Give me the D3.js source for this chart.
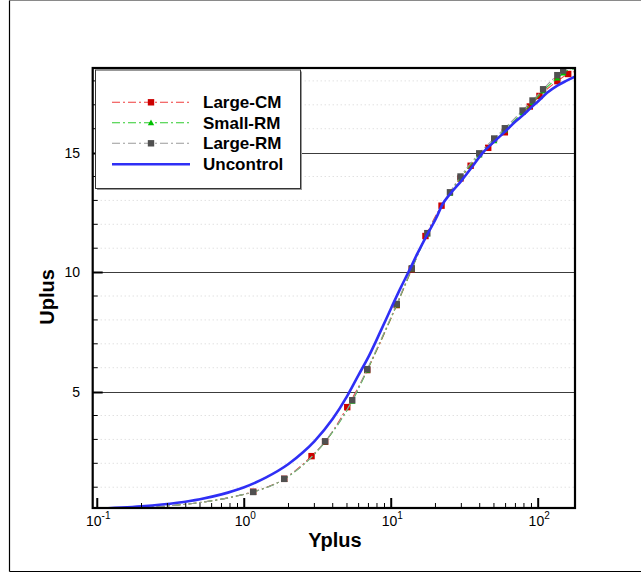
<!DOCTYPE html>
<html>
<head>
<meta charset="utf-8">
<script src="https://cdn.jsdelivr.net/npm/d3@7"></script>
<style>
  body { margin: 0; background: #fff; }
  svg { display: block; font-family: "Liberation Sans", Arial, Helvetica, sans-serif; }
</style>
</head>
<body>
<svg id="chart" width="641" height="573"></svg>
<script>
// Mean velocity profiles in wall units: Uplus versus Yplus (log axis)

const seriesNames = ["Large-CM", "Small-RM", "Large-RM", "Uncontrol"];

// Large-CM
const yplusLargeCM = [0.0931, 0.2, 0.35, 0.5, 0.7, 0.9,
  1.15, 1.87, 2.87, 3.55, 5.02, 6.87, 10.9, 13.8, 17.1, 22, 29.6, 34.7, 45.7, 59.3, 87.7, 102, 135, 160, 178];
const uplusLargeCM = [0.067, 0.145, 0.25, 0.36, 0.5, 0.64,
  0.81, 1.35, 2.3, 2.9, 4.35, 5.9, 8.62, 10.12, 11.51, 12.78, 13.92, 14.45, 15.2, 15.85, 16.93, 17.37, 17.99, 18.29, 18.4];

// Small-RM
const yplusSmallRM = [0.0931, 0.2, 0.35, 0.5, 0.7, 0.9,
  1.15, 1.87, 3.55, 5.43, 6.87, 10.9, 13.8, 17.6, 25.1, 29.6, 39.7, 50.2, 59.3, 78.3, 91.5, 108, 135, 148, 178];
const uplusSmallRM = [0.067, 0.145, 0.25, 0.36, 0.5, 0.64,
  0.8, 1.34, 2.9, 4.6, 5.9, 8.63, 10.13, 11.6, 13.3, 13.95, 14.9, 15.5, 15.95, 16.68, 17.1, 17.58, 18.12, 18.33, 18.58];

// Large-RM
const yplusLargeRM = [0.0931, 0.2, 0.35, 0.5, 0.7, 0.9,
  1.15, 1.87, 3.55, 5.43, 6.87, 10.9, 13.8, 17.6, 25.1, 29.6, 39.7, 50.2, 59.3, 78.3, 91.5, 108, 135, 148, 178];
const uplusLargeRM = [0.067, 0.145, 0.25, 0.36, 0.5, 0.64,
  0.8, 1.35, 2.92, 4.64, 5.94, 8.67, 10.16, 11.63, 13.34, 14.0, 14.97, 15.59, 16.02, 16.76, 17.18, 17.65, 18.24, 18.43, 18.8];

// Uncontrol
const yplusUncontrol = [0.0931, 0.2, 0.35, 0.5, 0.7, 1.0, 1.4, 2.0, 2.5, 3.0, 4.0, 5.0, 6.0, 7.0, 8.5, 10,
  11.5, 13.1, 15, 17.5, 20, 22.5, 25, 30, 36, 42, 50, 60, 70, 80, 90, 100, 115, 135, 155, 178];
const uplusUncontrol = [0.093, 0.2, 0.35, 0.5, 0.7, 1.0, 1.4, 1.97, 2.45, 2.92, 3.86, 4.8, 5.7, 6.45, 7.55, 8.5,
  9.3, 10.0, 10.75, 11.55, 12.2, 12.87, 13.25, 13.82, 14.45, 15.0, 15.45, 15.9, 16.3, 16.6, 16.9, 17.15, 17.5, 17.8, 18.0, 18.18];

// Axis ticks
const xDecadeExponents = ["-1", "0", "1", "2"];
const yMajorTicks = [5, 10, 15];
const yMinorTicks = [1, 2, 3, 4, 6, 7, 8, 9, 11, 12, 13, 14, 16, 17, 18];

// ---- layout ----
const svg = d3.select("#chart");
const plot = { left: 92.7, right: 575, top: 68, bottom: 508 };

const x = d3.scaleLog().domain([0.0931, 178]).range([plot.left, plot.right]);
const y = d3.scaleLinear().domain([0.13, 18.54]).range([plot.bottom, plot.top]);

const zip = (xs, ys) => xs.map((v, i) => ({ yp: v, up: ys[i] }));

const series = [
  { name: seriesNames[0], pts: zip(yplusLargeCM, uplusLargeCM), line: "#f03c3c", mark: "#cc0000",
    shape: "square", dash: "8,3,2,3", width: 1.1, markFrom: 6, markTo: yplusLargeCM.length - 2 },
  { name: seriesNames[1], pts: zip(yplusSmallRM, uplusSmallRM), line: "#2ecc2e", mark: "#00c000",
    shape: "triangle", dash: "8,3,2,3", width: 1.1, markFrom: 6, markTo: yplusSmallRM.length - 1 },
  { name: seriesNames[2], pts: zip(yplusLargeRM, uplusLargeRM), line: "#9a9a9a", mark: "#505050",
    shape: "square", dash: "8,3,2,3", width: 1.1, markFrom: 6, markTo: yplusLargeRM.length - 2 },
  { name: seriesNames[3], pts: zip(yplusUncontrol, uplusUncontrol), line: "#2f2ff5", mark: null,
    shape: null, dash: null, width: 2.6 }
];

// outer frame
svg.append("line").attr("x1", 9.5).attr("x2", 641).attr("y1", 0.5).attr("y2", 0.5)
  .attr("stroke", "#8a8a8a").attr("stroke-width", 1);
svg.append("line").attr("x1", 9.5).attr("x2", 9.5).attr("y1", 0.5).attr("y2", 571.5)
  .attr("stroke", "#000").attr("stroke-width", 1.2);
svg.append("line").attr("x1", 9.5).attr("x2", 641).attr("y1", 571.5).attr("y2", 571.5)
  .attr("stroke", "#000").attr("stroke-width", 1.2);

// clip to plot area
svg.append("defs").append("clipPath").attr("id", "plotClip")
  .append("rect").attr("x", plot.left).attr("y", plot.top)
  .attr("width", plot.right - plot.left).attr("height", plot.bottom - plot.top);

// minor dotted gridlines
svg.append("g").selectAll("line").data(yMinorTicks).join("line")
  .attr("x1", plot.left).attr("x2", plot.right)
  .attr("y1", d => y(d)).attr("y2", d => y(d))
  .attr("stroke", "#d4d4d4").attr("stroke-width", 1).attr("stroke-dasharray", "1,3");

// major gridlines
svg.append("g").selectAll("line").data(yMajorTicks).join("line")
  .attr("x1", plot.left).attr("x2", plot.right)
  .attr("y1", d => Math.round(y(d)) + 0.5).attr("y2", d => Math.round(y(d)) + 0.5)
  .attr("stroke", "#3c3c3c").attr("stroke-width", 1.2);

// curves
const lineGen = d3.line().x(d => x(d.yp)).y(d => y(d.up)).curve(d3.curveMonotoneX);
const gPlot = svg.append("g").attr("clip-path", "url(#plotClip)");

function drawMarker(g, shape, color, cx, cy) {
  if (shape === "square") {
    g.append("rect").attr("x", cx - 3.2).attr("y", cy - 3.2).attr("width", 6.4).attr("height", 6.4)
      .attr("fill", color);
  } else if (shape === "triangle") {
    const s = 3.2;
    g.append("path").attr("d", `M${cx},${cy - s}L${cx + s},${cy + s * 0.8}L${cx - s},${cy + s * 0.8}Z`)
      .attr("fill", color);
  }
}

series.forEach(s => {
  const g = gPlot.append("g");
  g.append("path").datum(s.pts).attr("d", lineGen)
    .attr("fill", "none").attr("stroke", s.line).attr("stroke-width", s.width)
    .attr("stroke-dasharray", s.dash).attr("stroke-linejoin", "round");
  if (s.shape) {
    s.pts.forEach((p, i) => {
      if (i >= s.markFrom && i <= s.markTo) drawMarker(g, s.shape, s.mark, x(p.yp), y(p.up));
    });
  }
});

// axes: ticks pointing inward
const axisG = svg.append("g");
const minorX = [];
[0.1, 1, 10, 100].forEach(dec => {
  for (let k = 2; k <= 9; k++) { const v = dec * k; if (v <= 178) minorX.push(v); }
});
axisG.selectAll(".xminor").data(minorX).join("line")
  .attr("x1", d => x(d)).attr("x2", d => x(d))
  .attr("y1", plot.bottom).attr("y2", plot.bottom - 5)
  .attr("stroke", "#000").attr("stroke-width", 1);
axisG.selectAll(".xmajor").data(xDecadeExponents).join("line")
  .attr("x1", d => x(Math.pow(10, +d))).attr("x2", d => x(Math.pow(10, +d)))
  .attr("y1", plot.bottom).attr("y2", plot.bottom - 10)
  .attr("stroke", "#000").attr("stroke-width", 2);
axisG.selectAll(".yminor").data(yMinorTicks).join("line")
  .attr("x1", plot.left).attr("x2", plot.left + 5)
  .attr("y1", d => y(d)).attr("y2", d => y(d))
  .attr("stroke", "#000").attr("stroke-width", 1);
axisG.selectAll(".ymajor").data(yMajorTicks).join("line")
  .attr("x1", plot.left).attr("x2", plot.left + 10)
  .attr("y1", d => Math.round(y(d)) + 0.5).attr("y2", d => Math.round(y(d)) + 0.5)
  .attr("stroke", "#000").attr("stroke-width", 2);

// plot border
svg.append("rect").attr("x", plot.left).attr("y", plot.top)
  .attr("width", plot.right - plot.left).attr("height", plot.bottom - plot.top)
  .attr("fill", "none").attr("stroke", "#000").attr("stroke-width", 2.2);

// tick labels
const xl = svg.append("g").attr("font-size", 14).attr("fill", "#000");
xDecadeExponents.forEach(e => {
  const t = xl.append("text").attr("x", x(Math.pow(10, +e)) + 1).attr("y", 526).attr("text-anchor", "middle");
  t.append("tspan").text("10");
  t.append("tspan").attr("dy", -7).attr("font-size", 10).text(e);
});
svg.append("g").attr("font-size", 14).selectAll("text").data(yMajorTicks).join("text")
  .attr("x", 80).attr("y", d => y(d) + 5).attr("text-anchor", "end").text(d => d);

// axis titles
svg.append("text").attr("x", 335).attr("y", 547).attr("text-anchor", "middle")
  .attr("font-size", 20).attr("font-weight", "bold").text("Yplus");
svg.append("text").attr("transform", "translate(54,297) rotate(-90)").attr("text-anchor", "middle")
  .attr("font-size", 20).attr("font-weight", "bold").text("Uplus");

// legend
const lg = svg.append("g");
lg.append("rect").attr("x", 97).attr("y", 71.5).attr("width", 205).attr("height", 118.5).attr("fill", "#9a9a9a");
lg.append("rect").attr("x", 95.5).attr("y", 70).attr("width", 205).attr("height", 118.5)
  .attr("fill", "#fff").attr("stroke", "#333").attr("stroke-width", 1);
const rowsY = [102.3, 122.7, 143.3, 164.3];
series.forEach((s, i) => {
  const ry = rowsY[i];
  lg.append("line").attr("x1", 112).attr("x2", 190).attr("y1", ry).attr("y2", ry)
    .attr("stroke", s.line).attr("stroke-width", s.width).attr("stroke-dasharray", s.dash);
  if (s.shape) drawMarker(lg, s.shape, s.mark, 151, ry);
  lg.append("text").attr("x", 203).attr("y", ry + 6).attr("font-size", 17).attr("font-weight", "bold")
    .text(s.name);
});
</script>
</body>
</html>
